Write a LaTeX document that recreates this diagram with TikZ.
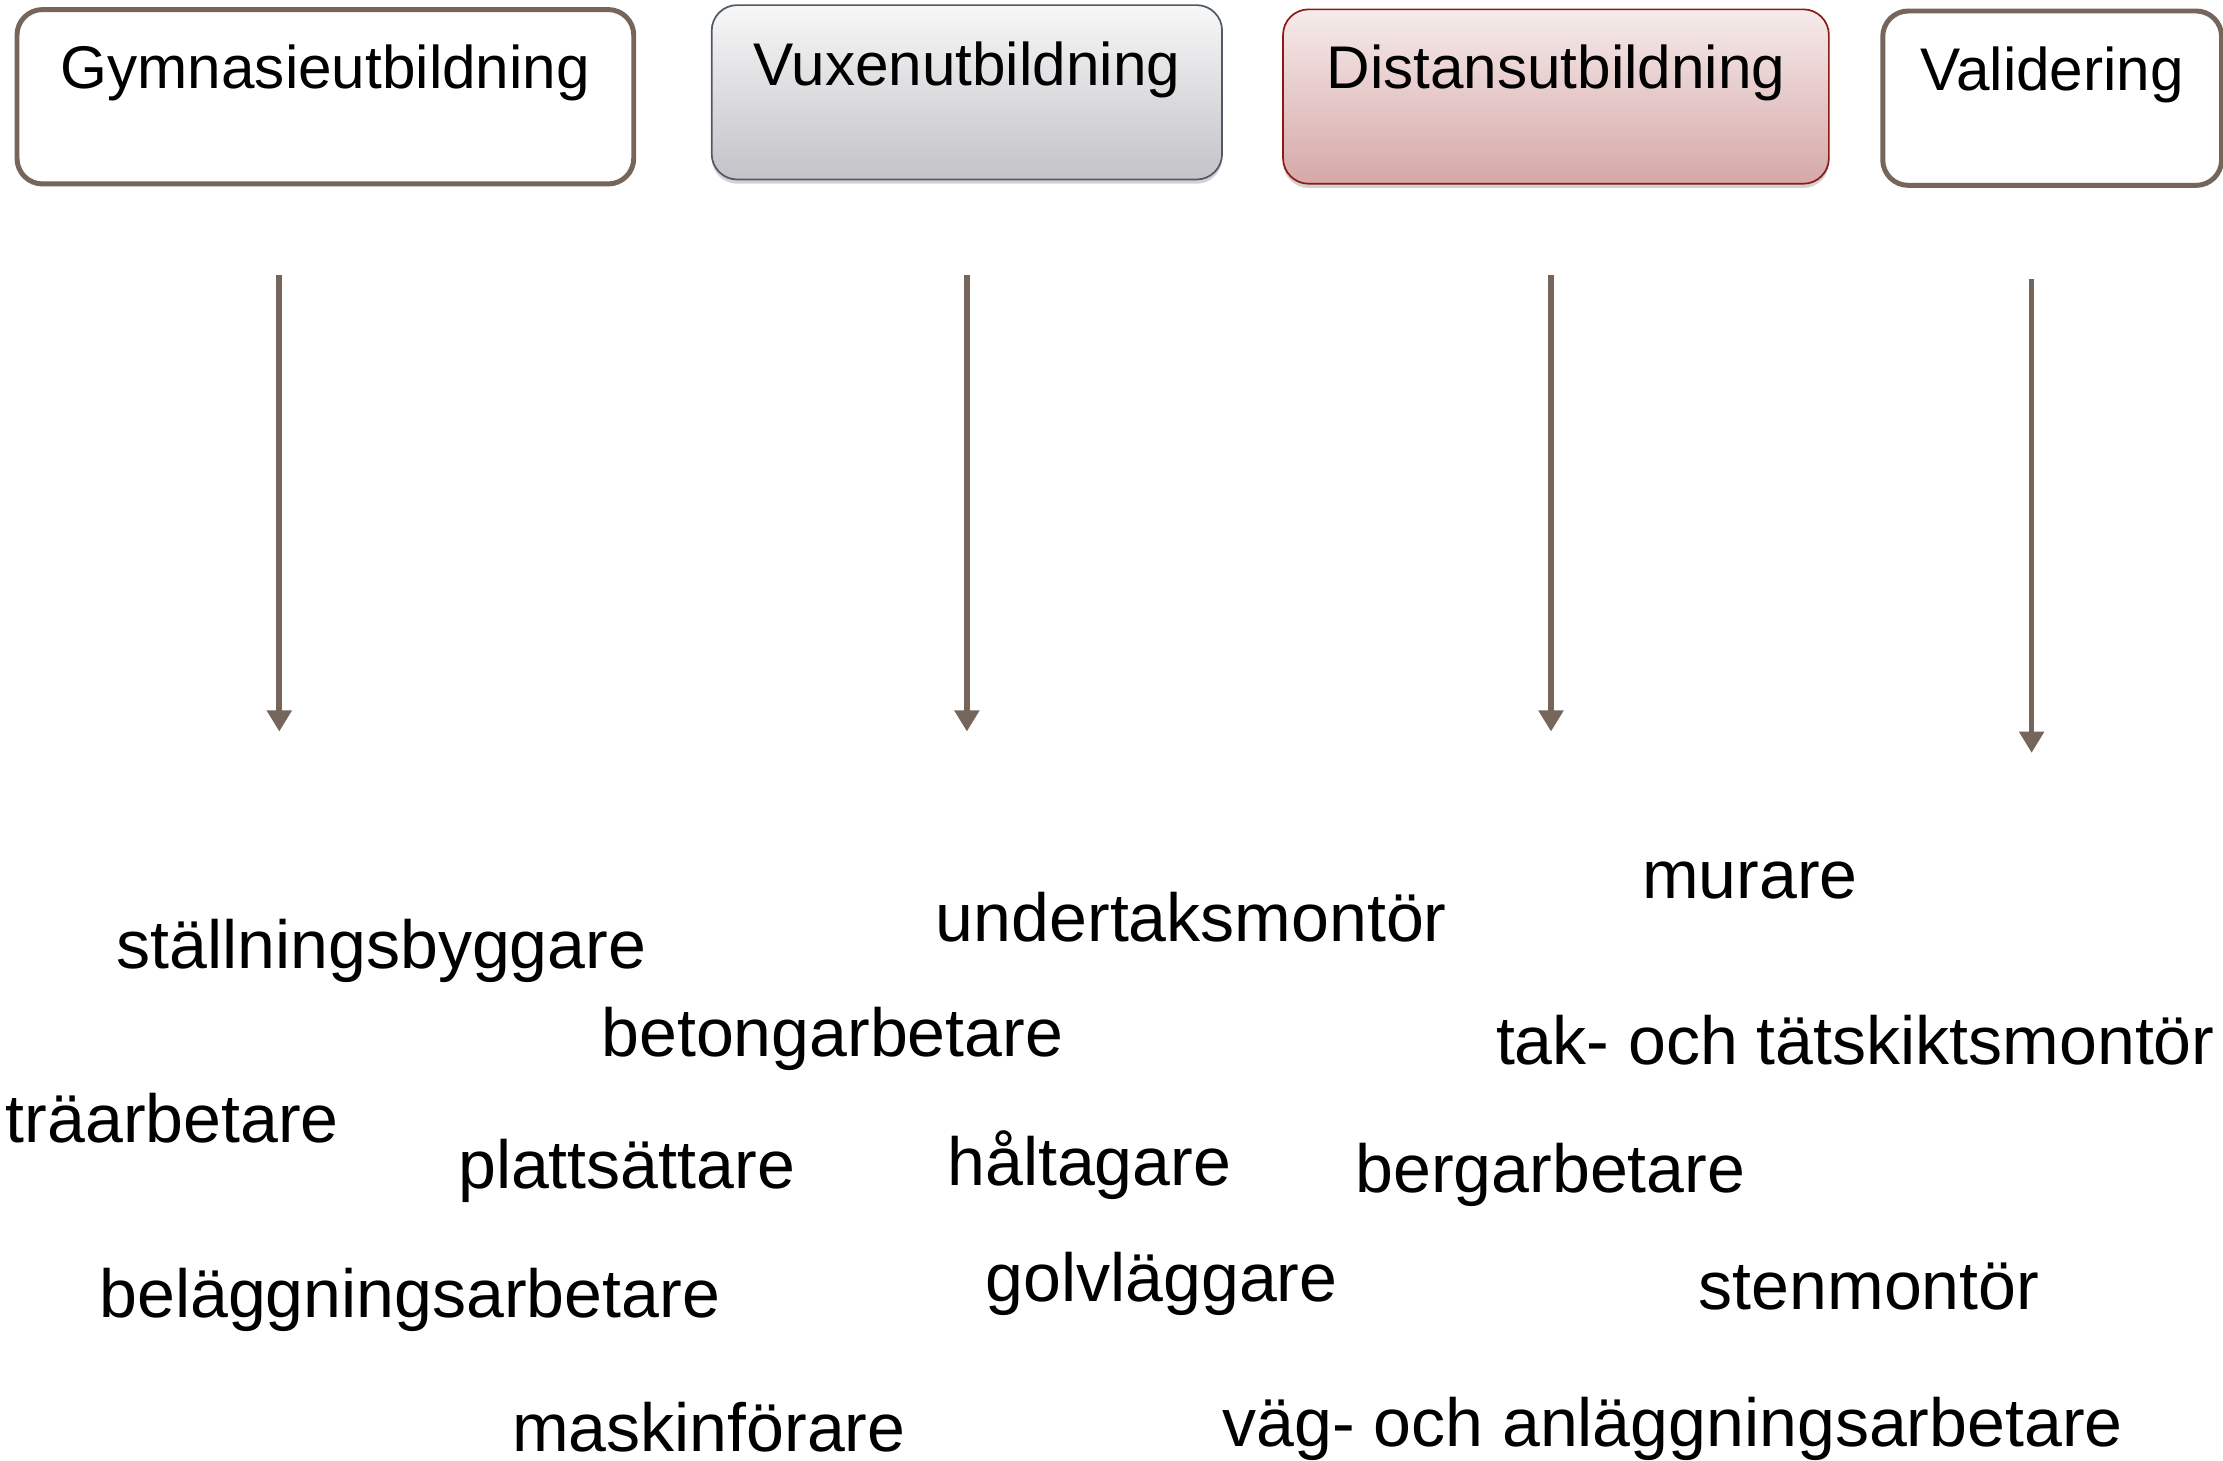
\documentclass[tikz,border=0pt]{standalone}
\usepackage{fontspec}
\setmainfont{Liberation Sans}
\usetikzlibrary{shadows,arrows.meta}
\definecolor{taupe}{HTML}{76655B}
\definecolor{slateb}{HTML}{4F5A66}
\definecolor{darkred}{HTML}{8B1A14}
\tikzset{
  boxbase/.style={rounded corners=18pt, inner sep=0pt, text height=56pt, text depth=67pt, anchor=north,
    font=\fontsize{42.5}{50}\selectfont},
  plainbox/.style={boxbase, draw=taupe, line width=3.5pt, fill=white},
  greybox/.style={boxbase, draw=slateb, line width=1.2pt, top color=white!60!gray!15, bottom color=black!5!blue!5!gray!45,
    drop shadow={opacity=0.35, shadow xshift=0pt, shadow yshift=-3pt}},
  redbox/.style={boxbase, draw=darkred, line width=1.2pt, top color={rgb,255:red,246;green,235;blue,235}, bottom color={rgb,255:red,214;green,168;blue,168},
    drop shadow={opacity=0.35, shadow xshift=0pt, shadow yshift=-3pt}},
  job/.style={anchor=base west, inner sep=0pt, font=\fontsize{48}{56}\selectfont},
  flow/.style={draw=taupe, line width=4pt, -{Triangle[width=17pt,length=15pt]}},
}
\begin{document}
\begin{tikzpicture}[x=1pt,y=-1pt]
\useasboundingbox (0,0) rectangle (1568,1030);
\fill[white] (0,0) rectangle (1568,1030);
% top boxes
\node[plainbox, minimum width=435pt] (gym) at (229.5,5) {Gymnasieutbildning};
\node[greybox, minimum width=360pt, text height=57pt, text depth=66pt] (vux) at (682,3) {Vuxenutbildning};
\node[redbox, minimum width=385pt] (dist) at (1097.5,6) {Distansutbildning};
\node[plainbox, minimum width=239pt] (val) at (1447.5,6) {Validering};
% arrow anchors
\coordinate (a1s) at (197,194); \coordinate (a1e) at (197,516);
\coordinate (a2s) at (682,194); \coordinate (a2e) at (682,516);
\coordinate (a3s) at (1094,194); \coordinate (a3e) at (1094,516);
\coordinate (a4s) at (1433,197); \coordinate (a4e) at (1433,531);
\draw[flow] (a1s) -- (a1e);
\draw[flow] (a2s) -- (a2e);
\draw[flow] (a3s) -- (a3e);
\draw[flow] (a4s) -- (a4e);
% jobs
\node[job] (j1) at (82,683) {ställningsbyggare};
\node[job] (j2) at (660,664) {undertaksmontör};
\node[job] (j3) at (1158,634) {murare};
\node[job] (j4) at (424,745) {betongarbetare};
\node[job] (j5) at (1055,751) {tak- och tätskiktsmontör};
\node[job] (j6) at (4,806) {träarbetare};
\node[job] (j7) at (323,838) {plattsättare};
\node[job] (j8) at (668,836) {håltagare};
\node[job] (j9) at (956,841) {bergarbetare};
\node[job] (j10) at (70,929) {beläggningsarbetare};
\node[job] (j11) at (695,918) {golvläggare};
\node[job] (j12) at (1198,924) {stenmontör};
\node[job] (j13) at (361,1024) {maskinförare};
\node[job] (j14) at (862,1020) {väg- och anläggningsarbetare};
\end{tikzpicture}
\end{document}
